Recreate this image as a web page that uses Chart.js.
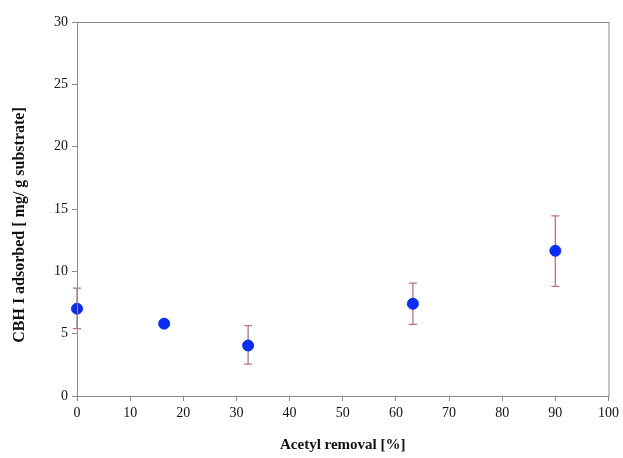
<!DOCTYPE html>
<html>
<head>
<meta charset="utf-8">
<script src="https://cdn.jsdelivr.net/npm/chart.js@4.4.0/dist/chart.umd.min.js"></script>
<style>
  html, body { margin: 0; padding: 0; background: #fff; }
  #wrap { width: 623px; height: 458px; }
</style>
</head>
<body>
<div id="wrap"><canvas id="myChart" width="623" height="458"></canvas></div>
<script>
// acetyl removal [%] and adsorbed CBH I with error range
var removal = [0, 16.4, 32.2, 63.2, 90];
var adsorbed = [7.0, 5.8, 4.05, 7.4, 11.65];
var errLow = [5.4, 5.8, 2.55, 5.75, 8.8];
var errHigh = [8.65, 5.8, 5.65, 9.05, 14.45];

var yTitle = 'CBH I adsorbed [ mg/ g substrate]';
var axisColor = '#8a8a8a';

// draws the vertical error bars with caps
var errorBars = {
  id: 'errorBars',
  beforeDatasetsDraw: function(chart) {
    var ctx = chart.ctx;
    var xs = chart.scales.x, ys = chart.scales.y;
    ctx.save();
    ctx.strokeStyle = '#b86f8f';
    ctx.lineWidth = 1.3;
    for (var i = 0; i < removal.length; i++) {
      if (errHigh[i] === errLow[i]) continue;
      var px = xs.getPixelForValue(removal[i]);
      var top = ys.getPixelForValue(errHigh[i]);
      var bot = ys.getPixelForValue(errLow[i]);
      ctx.beginPath();
      ctx.moveTo(px, top); ctx.lineTo(px, bot);
      ctx.moveTo(px - 4, top); ctx.lineTo(px + 4, top);
      ctx.moveTo(px - 4, bot); ctx.lineTo(px + 4, bot);
      ctx.stroke();
    }
    ctx.restore();
  }
};

// box round the plot area + y title (sits a bit lower than centre in the original)
var frame = {
  id: 'frame',
  afterDraw: function(chart) {
    var a = chart.chartArea, ctx = chart.ctx;
    ctx.save();
    ctx.strokeStyle = axisColor;
    ctx.lineWidth = 1;
    ctx.strokeRect(a.left + 0.5, a.top + 0.5, a.right - a.left, a.bottom - a.top);
    ctx.translate(20, 225);
    ctx.rotate(-Math.PI / 2);
    ctx.fillStyle = '#111';
    ctx.font = 'bold 16px "Liberation Serif"';
    ctx.textAlign = 'center';
    ctx.textBaseline = 'middle';
    ctx.fillText(yTitle, 0, 0);
    ctx.restore();
  }
};

var ctx = document.getElementById('myChart').getContext('2d');
var myChart = new Chart(ctx, {
  type: 'scatter',
  data: {
    datasets: [{
      data: removal.map(function(x, i) { return { x: x, y: adsorbed[i] }; }),
      backgroundColor: '#0a2cff',
      borderColor: '#0a2cff',
      pointRadius: 5.5,
      pointHoverRadius: 5.5,
      clip: false
    }]
  },
  options: {
    responsive: false,
    animation: false,
    layout: { padding: { top: 22, right: 14, left: 0, bottom: 0 } },
    plugins: {
      legend: { display: false },
      tooltip: { enabled: false }
    },
    scales: {
      x: {
        min: 0, max: 100,
        ticks: {
          stepSize: 10, color: '#111', padding: 4,
          font: { family: 'Liberation Serif', size: 14 }
        },
        grid: { drawOnChartArea: false, tickLength: 5, color: axisColor },
        border: { color: axisColor },
        title: {
          display: true, text: 'Acetyl removal [%]', color: '#111',
          font: { family: 'Liberation Serif', size: 15, weight: 'bold' },
          padding: { top: 6 }
        },
        afterFit: function(scale) { scale.height = 62; }
      },
      y: {
        min: 0, max: 30,
        ticks: {
          stepSize: 5, color: '#111', padding: 4,
          font: { family: 'Liberation Serif', size: 14 }
        },
        grid: { drawOnChartArea: false, tickLength: 5, color: axisColor },
        border: { color: axisColor },
        afterFit: function(scale) { scale.width = 77; }
      }
    }
  },
  plugins: [errorBars, frame]
});
</script>
</body>
</html>
